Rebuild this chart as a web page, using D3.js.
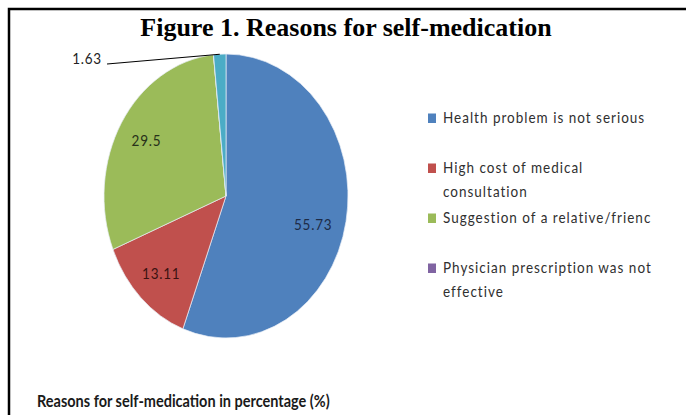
<!DOCTYPE html>
<html><head><meta charset="utf-8">
<script src="https://cdn.jsdelivr.net/npm/d3@7"></script>
<style>html,body{margin:0;padding:0;background:#fff;overflow:hidden} svg{display:block}</style>
</head><body>
<script>
// ---- data ----
const categories = [
  "Health problem is not serious",
  "High cost of medical\nconsultation",
  "Suggestion of a relative/frienc",
  "Physician prescription was not\neffective",
  "Other"
];
const values = [55.73, 13.11, 29.5, 0, 1.63];
const valueLabels = ["55.73", "13.11", "29.5", "", "1.63"];
const colors = ["#4f81bd", "#c0504d", "#9bbb59", "#8064a2", "#4bacc6"];
const labelColors = ["#1d2b46", "#3a1211", "#28321a", "#2a2036", "#222222"];
const legendShown = 4;
const titleText = "Figure 1. Reasons for self-medication";
const footText = "Reasons for self-medication in percentage (%)";

// ---- layout ----
const W = 686, H = 415;
const cx = 226, cy = 196, rx = 122, ry = 142;
const sy = ry / rx;
const stretch = 1.16;
const sans = "Lato, 'Open Sans', sans-serif";

const svg = d3.select("body").append("svg").attr("width", W).attr("height", H);
svg.append("rect").attr("width", W).attr("height", H).attr("fill", "#fff");

// frame
svg.append("path")
  .attr("d", `M9,${H + 5}V9H${W + 5}`)
  .attr("fill", "none").attr("stroke", "#000").attr("stroke-width", 2.5);

// title
svg.append("text")
  .attr("x", 346).attr("y", 36)
  .attr("text-anchor", "middle")
  .attr("font-family", "'Liberation Serif', 'Times New Roman', serif")
  .attr("font-weight", "bold").attr("font-size", 26)
  .attr("fill", "#000")
  .text(titleText);

// pie
const pie = d3.pie().sort(null).value(d => d)(values);
const arc = d3.arc().innerRadius(0).outerRadius(rx);
const g = svg.append("g").attr("transform", `translate(${cx},${cy}) scale(1,${sy})`);
g.selectAll("path").data(pie).join("path")
  .attr("d", arc)
  .attr("fill", (d, i) => colors[i])
  .attr("stroke", "#e8eef6").attr("stroke-width", 0.7)
  .attr("vector-effect", "non-scaling-stroke");

// labels
const labelArc = d3.arc().innerRadius(rx * 0.76).outerRadius(rx * 0.76);
function stretchedText(sel, x, y) {
  return sel.append("text").attr("transform", `translate(${x},${y}) scale(1,${stretch})`);
}
pie.forEach((d, i) => {
  if (!d.value) return;
  const pct = d.value / d3.sum(values);
  if (pct > 0.03) {
    const [lx, ly] = labelArc.centroid(d);
    stretchedText(svg, cx + lx - (pct > 0.5 ? 4 : 0), cy + ly * sy + (pct > 0.5 ? 9 : 0))
      .attr("text-anchor", "middle").attr("dy", "0.35em")
      .attr("font-family", sans).attr("font-size", 13.5).attr("letter-spacing", 0.8)
      .attr("fill", labelColors[i]).text(valueLabels[i]);
  } else {
    const a = (d.startAngle + d.endAngle) / 2;
    const ox = cx + rx * Math.sin(a), oy = cy - ry * Math.cos(a);
    const sx = cx - rx + 3, syy = cy - ry + 10;
    svg.append("line")
      .attr("x1", sx).attr("y1", syy).attr("x2", ox).attr("y2", oy)
      .attr("stroke", "#000").attr("stroke-width", 1.1);
    stretchedText(svg, cx - rx - 2, syy - 5)
      .attr("text-anchor", "end").attr("dy", "0.35em")
      .attr("font-family", sans).attr("font-size", 13.5).attr("letter-spacing", 0.8)
      .attr("fill", labelColors[i]).text(valueLabels[i]);
  }
});

// legend
const legend = svg.append("g");
categories.slice(0, legendShown).forEach((c, i) => {
  const y0 = 118 + i * 50;
  legend.append("rect")
    .attr("x", 428).attr("y", y0 - 4.5).attr("width", 8).attr("height", 9.5)
    .attr("fill", colors[i]);
  c.split("\n").forEach((line, j) => {
    stretchedText(legend, 443, y0 + j * 24)
      .attr("dy", "0.35em")
      .attr("font-family", sans).attr("font-size", 13.5).attr("letter-spacing", 1)
      .attr("fill", "#303030").text(line);
  });
});

// footer caption
stretchedText(svg, 37, 407)
  .attr("font-family", sans).attr("font-weight", "bold").attr("font-size", 14.5)
  .attr("fill", "#1a1a1a").text(footText);
</script>
</body></html>
